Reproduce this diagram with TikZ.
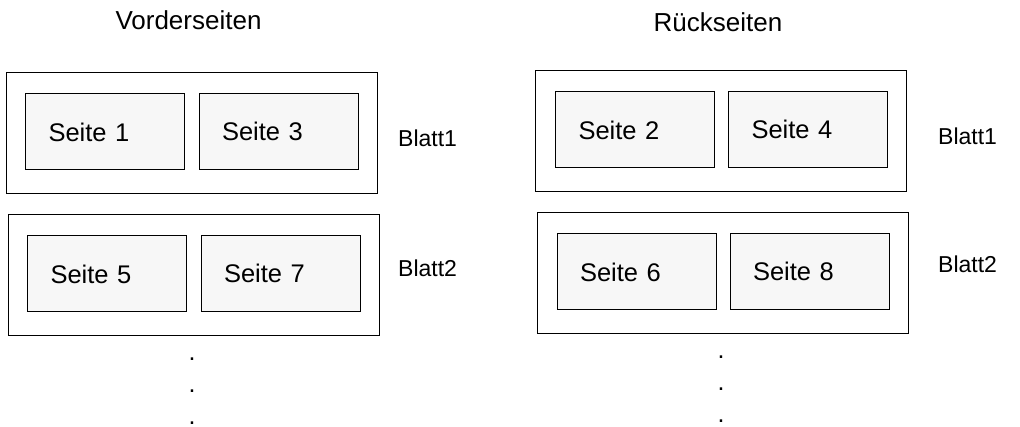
\documentclass[tikz,border=0pt]{standalone}
\usepackage{fontspec}
\setmainfont{Liberation Sans}
\definecolor{pagefill}{HTML}{F7F7F7}
\begin{document}
\begin{tikzpicture}[x=1pt,y=-1pt,
  sheet/.style={draw=black, line width=1pt, minimum width=371pt, minimum height=121pt, inner sep=0pt},
  pagebox/.style={draw=black, fill=pagefill, line width=1pt, minimum width=159pt, minimum height=76pt,
    inner xsep=23pt, inner ysep=0pt, text width=113pt, align=left,
    font=\fontsize{25.5}{30}\selectfont},
  heading/.style={anchor=base, inner sep=0pt, font=\fontsize{26}{30}\selectfont},
  sheetlabel/.style={anchor=base west, inner sep=0pt, font=\fontsize{23}{28}\selectfont},
  dotmark/.style={anchor=base, inner sep=0pt, font=\fontsize{25}{30}\selectfont}]
  \useasboundingbox (0,0) rectangle (1020,427);

  % column headings
  \node[heading] (hfront) at (188.5,29.3) {Vorderseiten};
  \node[heading] (hback)  at (718,31.7) {Rückseiten};

  % front sides
  \node[sheet] (f1) at (192,133.5) {};
  \node[pagebox] (p1) at (105,132) {Seite 1};
  \node[pagebox] (p3) at (278.5,131.5) {Seite 3};
  \node[sheetlabel] (lf1) at (398,147) {Blatt1};

  \node[sheet] (f2) at (193.5,275.5) {};
  \node[pagebox] (p5) at (107,274) {Seite 5};
  \node[pagebox] (p7) at (280.5,273.5) {Seite 7};
  \node[sheetlabel] (lf2) at (398,277) {Blatt2};

  % back sides
  \node[sheet] (b1) at (721,131.5) {};
  \node[pagebox] (p2) at (635,130) {Seite 2};
  \node[pagebox] (p4) at (808,129.5) {Seite 4};
  \node[sheetlabel] (lb1) at (938,145) {Blatt1};

  \node[sheet] (b2) at (722.5,273.5) {};
  \node[pagebox] (p6) at (636.5,272) {Seite 6};
  \node[pagebox] (p8) at (809.5,271.5) {Seite 8};
  \node[sheetlabel] (lb2) at (938,273) {Blatt2};

  % continuation dots
  \node[dotmark] (df1) at (192,360.5) {.};
  \node[dotmark] (df2) at (192,392.5) {.};
  \node[dotmark] (df3) at (192,424.5) {.};
  \node[dotmark] (db1) at (721,358.5) {.};
  \node[dotmark] (db2) at (721,390.5) {.};
  \node[dotmark] (db3) at (721,422.5) {.};
\end{tikzpicture}
\end{document}
